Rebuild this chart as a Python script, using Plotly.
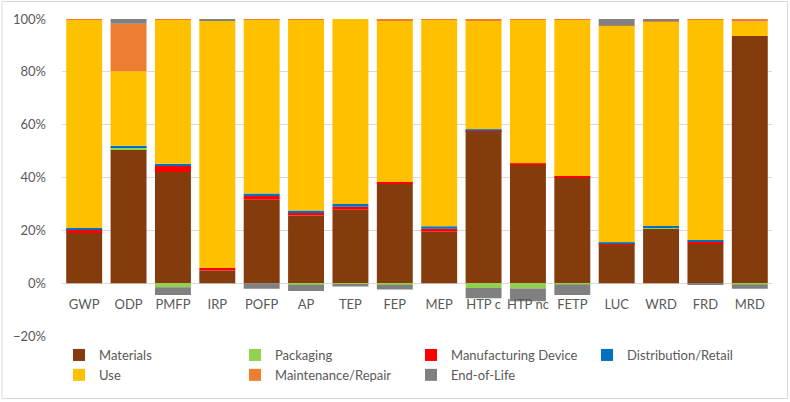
import plotly.graph_objects as go

categories = ["GWP", "ODP", "PMFP", "IRP", "POFP", "AP", "TEP", "FEP", "MEP",
              "HTP c", "HTP nc", "FETP", "LUC", "WRD", "FRD", "MRD"]

materials = [19.0, 50.7, 42.1, 4.8, 31.6, 25.6, 27.8, 37.8, 19.5, 57.6, 44.8, 40.1, 14.7, 20.6, 14.8, 93.6]
packaging = [0.0, 0.5, -1.5, 0.0, 0.0, -0.6, -0.3, -0.6, 0.0, -1.8, -2.0, -0.5, 0.0, 0.3, 0.0, -0.5]
manufacturing = [1.5, 0.3, 2.3, 0.9, 1.4, 1.3, 1.1, 0.5, 1.1, 0.2, 0.6, 0.5, 0.4, 0.3, 1.1, 0.0]
distribution = [0.4, 0.5, 0.8, 0.0, 0.9, 0.6, 1.1, 0.0, 0.9, 0.5, 0.0, 0.0, 0.4, 0.4, 0.4, 0.0]
use = [78.8, 28.2, 54.5, 93.6, 65.8, 72.4, 70.0, 61.3, 78.2, 40.9, 54.4, 59.2, 81.9, 77.5, 83.6, 5.5]
maintenance = [0.3, 18.0, 0.3, 0.0, 0.3, 0.1, 0.1, 0.4, 0.3, 0.8, 0.3, 0.3, 0.1, 0.1, 0.1, 0.9]
end_of_life = [0.0, 1.9, -3.0, 0.7, -2.1, -2.4, -1.0, -1.8, 0.0, -3.9, -4.8, -4.0, 2.5, 0.8, -0.5, -1.6]

series = [
    ("Materials", materials, "#843C0C"),
    ("Packaging", packaging, "#92D050"),
    ("Manufacturing Device", manufacturing, "#FF0000"),
    ("Distribution/Retail", distribution, "#0070C0"),
    ("Use", use, "#FFC000"),
    ("Maintenance/Repair", maintenance, "#ED7D31"),
    ("End-of-Life", end_of_life, "#808080"),
]

fig = go.Figure()
for name, vals, color in series:
    fig.add_trace(go.Bar(x=categories, y=vals, name=name,
                         marker=dict(color=color, line=dict(width=0))))

W, H = 790, 402
L, R, T, B = 61.5, 18, 19, 66
pw, ph = W - L - R, H - T - B

fig.update_layout(
    width=W, height=H,
    barmode="relative",
    bargap=0.19,
    margin=dict(l=L, r=R, t=T, b=B, pad=0, autoexpand=False),
    paper_bgcolor="white",
    plot_bgcolor="white",
    font=dict(family="Lato, Open Sans, sans-serif", size=13, color="#595959"),
    legend=dict(orientation="h", xref="container", x=59 / W, xanchor="left",
                yref="container", y=1 - 340 / H, yanchor="top",
                entrywidth=131, traceorder="normal",
                font=dict(size=13, color="#595959"), bgcolor="rgba(0,0,0,0)"),
    showlegend=True,
    xaxis=dict(anchor="free", position=1/6, showgrid=False, showline=False,
               automargin=False,
               ticks="outside", ticklen=9, tickcolor="rgba(0,0,0,0)",
               tickfont=dict(size=13, color="#595959")),
    yaxis=dict(range=[-20, 100], dtick=20, ticksuffix="%", showgrid=True,
               automargin=False,
               gridcolor="#D9D9D9", gridwidth=1, zeroline=True, zerolinecolor="#D9D9D9",
               zerolinewidth=1, showline=False, ticklabelstandoff=15,
               tickfont=dict(size=13, color="#595959")),
    shapes=[dict(type="rect", xref="paper", yref="paper",
                 x0=(1.5 - L) / pw, x1=(W - 2.5 - L) / pw,
                 y0=-(H - 3.5 - T - ph) / ph,
                 y1=1 + (T - 1.5) / ph,
                 line=dict(color="#D9D9D9", width=1), layer="below")],
)

fig.write_html("out.html", config={"displayModeBar": False},
               post_script="document.body.style.margin='0';")
